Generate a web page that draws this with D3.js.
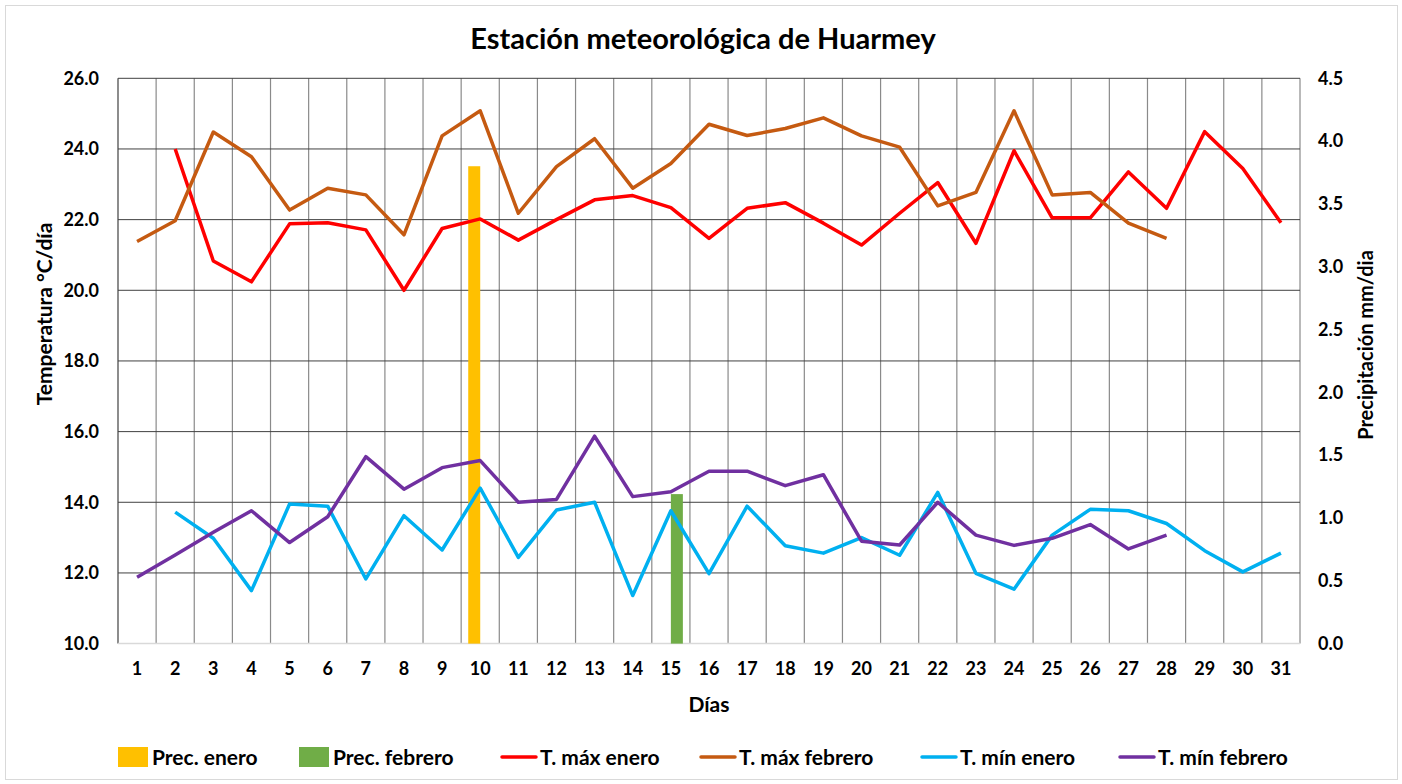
<!DOCTYPE html>
<html>
<head>
<meta charset="utf-8">
<script src="https://cdn.jsdelivr.net/npm/d3@7"></script>
<style>
  body { margin: 0; background: #fff; }
  svg text { font-family: Lato, "Open Sans", sans-serif; font-weight: bold; fill: #000; }
</style>
</head>
<body>
<svg id="chart" width="1402" height="784"></svg>
<script>
// días del mes
const days = d3.range(1, 32)

// precipitación mm/día (solo días con lluvia)
const precEnero = [{ day: 10, value: 3.8 }]
const precFebrero = [{ day: 15, value: 1.19 }]

// temperaturas °C (null = sin dato)
const tMaxEnero = [null, 24.0, 20.83, 20.24, 21.88, 21.91, 21.71, 20.0, 21.75, 22.02,
  21.42, 22.0, 22.56, 22.68, 22.34, 21.47, 22.32, 22.48, 21.9, 21.28,
  22.18, 23.05, 21.33, 23.95, 22.05, 22.05, 23.35, 22.32, 24.49, 23.45, 21.91]
const tMaxFebrero = [21.38, 21.97, 24.48, 23.78, 22.27, 22.89, 22.70, 21.57, 24.37, 25.08,
  22.18, 23.5, 24.29, 22.89, 23.59, 24.70, 24.38, 24.58, 24.88, 24.37,
  24.05, 22.39, 22.77, 25.08, 22.70, 22.77, 21.9, 21.47, null, null, null]
const tMinEnero = [null, 13.72, 12.98, 11.50, 13.95, 13.89, 11.83, 13.62, 12.65, 14.40,
  12.44, 13.78, 14.0, 11.36, 13.76, 11.98, 13.89, 12.77, 12.56, 13.0,
  12.5, 14.28, 11.99, 11.54, 13.07, 13.80, 13.76, 13.40, 12.63, 12.03, 12.56]
const tMinFebrero = [11.88, 12.51, 13.15, 13.76, 12.86, 13.59, 15.29, 14.37, 14.98, 15.18,
  14.0, 14.08, 15.87, 14.16, 14.30, 14.88, 14.88, 14.47, 14.78, 12.90,
  12.79, 14.0, 13.07, 12.78, 12.98, 13.37, 12.68, 13.07, null, null, null]

const tempTicks = d3.range(10, 26.01, 2)
const precTicks = d3.range(0, 4.51, 0.5)

const lineSeries = [
  { name: 'T. máx enero', values: tMaxEnero, color: '#FF0000' },
  { name: 'T. máx febrero', values: tMaxFebrero, color: '#C55A11' },
  { name: 'T. mín enero', values: tMinEnero, color: '#00B0F0' },
  { name: 'T. mín febrero', values: tMinFebrero, color: '#7030A0' }
]
const barSeries = [
  { key: 'enero', name: 'Prec. enero', values: precEnero, color: '#FFC000' },
  { key: 'febrero', name: 'Prec. febrero', values: precFebrero, color: '#70AD47' }
]

const svg = d3.select('#chart')
const margin = { left: 118, right: 1300, top: 78.3, bottom: 643.6 }

// borde exterior
svg.append('rect')
  .attr('x', 5.5).attr('y', 5.5).attr('width', 1392).attr('height', 774)
  .attr('fill', 'none').attr('stroke', '#d9d9d9')

const x = d3.scaleBand().domain(days).range([margin.left, margin.right]).padding(0)
const yT = d3.scaleLinear().domain([10, 26]).range([margin.bottom, margin.top])
const yP = d3.scaleLinear().domain([0, 4.5]).range([margin.bottom, margin.top])
const xInner = d3.scaleBand().domain(['enero', 'febrero']).range([0, 24])
const cx = d => x(d) + x.bandwidth() / 2

// rejilla vertical
const grid = svg.append('g')
grid.selectAll('line.v')
  .data(d3.range(0, 32))
  .join('line')
  .attr('class', 'v')
  .attr('x1', i => margin.left + i * x.bandwidth())
  .attr('x2', i => margin.left + i * x.bandwidth())
  .attr('y1', margin.top).attr('y2', margin.bottom)
  .attr('stroke', i => i === 0 ? '#404040' : '#8a8a8a')
  .attr('stroke-width', 1.2)

// rejilla horizontal
grid.selectAll('line.h')
  .data(tempTicks.slice(1))
  .join('line')
  .attr('class', 'h')
  .attr('x1', margin.left).attr('x2', margin.right)
  .attr('y1', d => yT(d)).attr('y2', d => yT(d))
  .attr('stroke', '#404040')
  .attr('stroke-width', 1)

// eje inferior
svg.append('line')
  .attr('x1', margin.left).attr('x2', margin.right)
  .attr('y1', margin.bottom).attr('y2', margin.bottom)
  .attr('stroke', '#d9d9d9').attr('stroke-width', 1.5)

// barras de precipitación
barSeries.forEach(s => {
  svg.append('g')
    .selectAll('rect')
    .data(s.values)
    .join('rect')
    .attr('x', d => cx(d.day) - 12 + xInner(s.key))
    .attr('width', xInner.bandwidth())
    .attr('y', d => yP(d.value))
    .attr('height', d => yP(0) - yP(d.value))
    .attr('fill', s.color)
})

// líneas de temperatura
const line = d3.line()
  .defined(d => d != null)
  .x((d, i) => cx(days[i]))
  .y(d => yT(d))

lineSeries.forEach(s => {
  svg.append('path')
    .attr('d', line(s.values))
    .attr('fill', 'none')
    .attr('stroke', s.color)
    .attr('stroke-width', 3.5)
    .attr('stroke-linejoin', 'round')
})

// ejes
const axisL = svg.append('g')
  .attr('transform', `translate(${margin.left},0)`)
  .call(d3.axisLeft(yT).tickValues(tempTicks).tickFormat(d3.format('.1f')).tickSize(0).tickPadding(19))
const axisR = svg.append('g')
  .attr('transform', `translate(${margin.right},0)`)
  .call(d3.axisRight(yP).tickValues(precTicks).tickFormat(d3.format('.1f')).tickSize(0).tickPadding(18))
const axisB = svg.append('g')
  .attr('transform', `translate(0,${margin.bottom})`)
  .call(d3.axisBottom(x).tickSize(0).tickPadding(19))

;[axisL, axisR, axisB].forEach(a => {
  a.select('.domain').remove()
  a.selectAll('text').style('font-size', '18px').style('font-family', 'Lato, sans-serif').style('font-weight', 'bold').attr('fill', '#000')
})

// títulos
svg.append('text')
  .attr('x', 703).attr('y', 49)
  .attr('text-anchor', 'middle')
  .style('font-size', '29px')
  .text('Estación meteorológica de Huarmey')

svg.append('text')
  .attr('x', 709).attr('y', 712)
  .attr('text-anchor', 'middle')
  .style('font-size', '21px')
  .text('Días')

svg.append('text')
  .attr('transform', 'translate(52,314) rotate(-90)')
  .attr('text-anchor', 'middle')
  .style('font-size', '21px')
  .text('Temperatura °C/día')

svg.append('text')
  .attr('transform', 'translate(1373,345) rotate(-90)')
  .attr('text-anchor', 'middle')
  .style('font-size', '20px')
  .text('Precipitación mm/dia')

// leyenda
const legendItems = [
  { name: barSeries[0].name, color: barSeries[0].color, type: 'bar', x: 118 },
  { name: barSeries[1].name, color: barSeries[1].color, type: 'bar', x: 299 },
  { name: lineSeries[0].name, color: lineSeries[0].color, type: 'line', x: 502 },
  { name: lineSeries[1].name, color: lineSeries[1].color, type: 'line', x: 701 },
  { name: lineSeries[2].name, color: lineSeries[2].color, type: 'line', x: 922 },
  { name: lineSeries[3].name, color: lineSeries[3].color, type: 'line', x: 1120 }
]
const legend = svg.append('g')
  .selectAll('g')
  .data(legendItems)
  .join('g')
  .attr('transform', d => `translate(${d.x},757)`)
legend.each(function (d) {
  const g = d3.select(this)
  if (d.type === 'bar') {
    g.append('rect').attr('x', 0).attr('y', -10).attr('width', 30).attr('height', 20).attr('fill', d.color)
    g.append('text').attr('x', 34).attr('y', 8).style('font-size', '21px').text(d.name)
  } else {
    g.append('line').attr('x1', 0).attr('x2', 34).attr('y1', 0).attr('y2', 0)
      .attr('stroke', d.color).attr('stroke-width', 3.5).attr('stroke-linecap', 'round')
    g.append('text').attr('x', 38).attr('y', 8).style('font-size', '21px').text(d.name)
  }
})
</script>
</body>
</html>
